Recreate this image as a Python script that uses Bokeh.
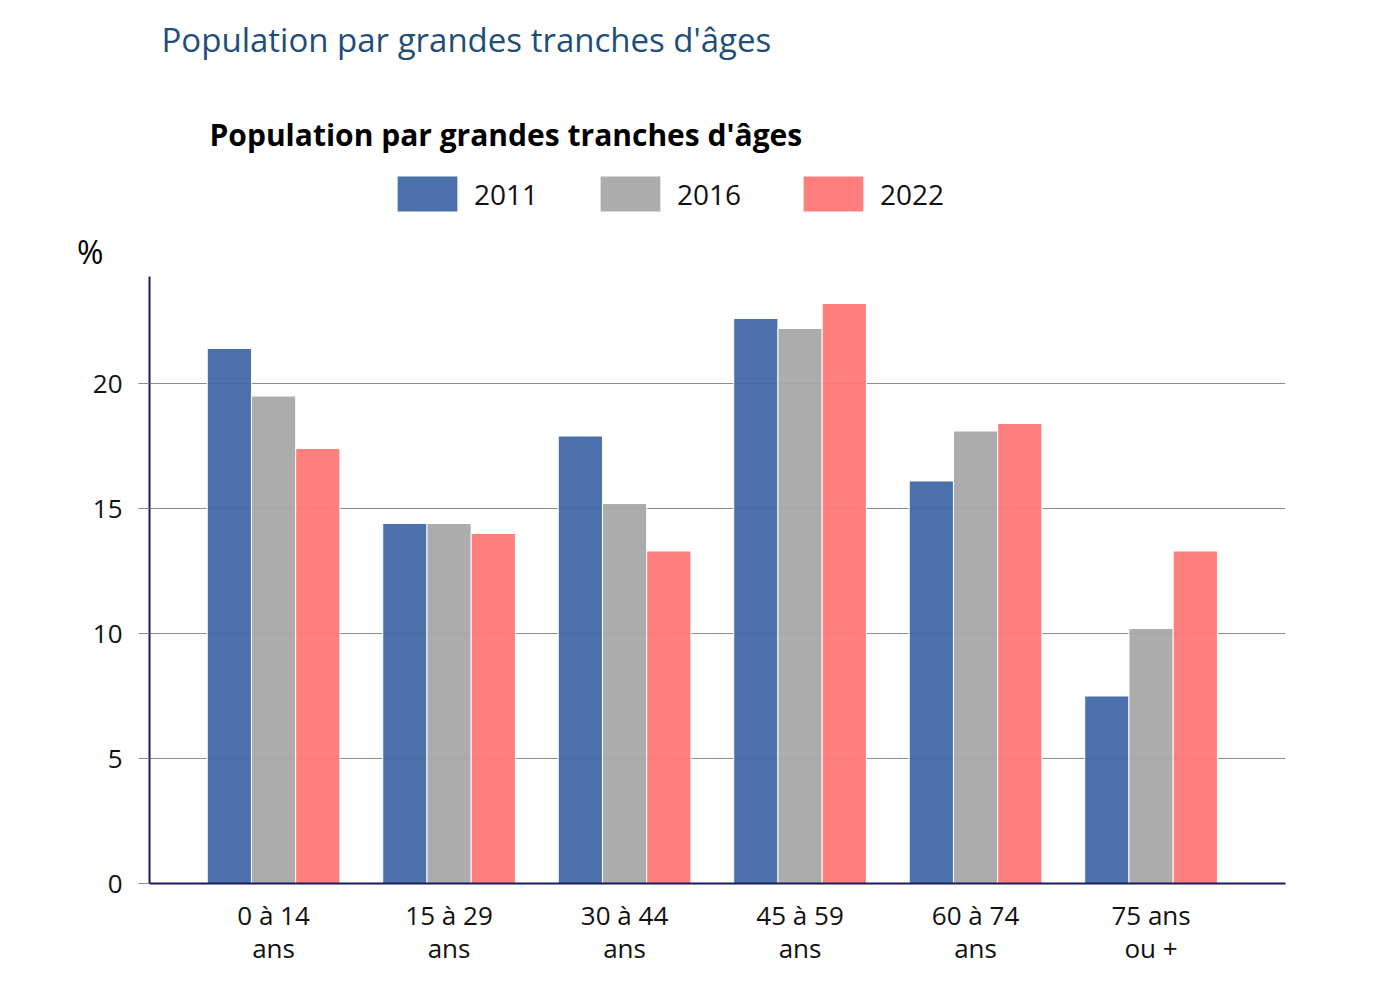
from bokeh.plotting import figure
from bokeh.models import ColumnDataSource, FixedTicker, Label, Legend, LegendItem, LinearAxis
from bokeh.embed import file_html
from bokeh.resources import INLINE

# Data
tranches = ["0 à 14\nans", "15 à 29\nans", "30 à 44\nans", "45 à 59\nans", "60 à 74\nans", "75 ans\nou +"]
pop_2011 = [21.4, 14.4, 17.9, 22.6, 16.1, 7.5]
pop_2016 = [19.5, 14.4, 15.2, 22.2, 18.1, 10.2]
pop_2022 = [17.4, 14.0, 13.3, 23.2, 18.4, 13.3]
annees = ["2011", "2016", "2022"]
y_ticks = [0, 5, 10, 15, 20]
titre = "Population par grandes tranches d'âges"

couleurs = ["#4168a8", "#a8a8a8", "#ff7878"]
pos = list(range(len(tranches)))

src = ColumnDataSource(dict(x=pos, a2011=pop_2011, a2016=pop_2016, a2022=pop_2022))

FONT = "Open Sans"

# the frame runs up to the top of the canvas so the titles and legend are not clipped
p = figure(
    width=1366,
    height=993,
    x_range=(-0.707, 5.766),
    y_range=(0, 35.32),
    output_backend="svg",
    toolbar_location=None,
    min_border_left=149,
    min_border_right=81,
    min_border_top=0,
    min_border_bottom=110,
)
p.outline_line_color = None
p.background_fill_color = "white"

# bars
renderers = []
for i, (col, c) in enumerate(zip(["a2011", "a2016", "a2022"], couleurs)):
    xs = [v + (i - 1) * 0.252 for v in pos]
    r = p.vbar(x=xs, top=src.data[col], width=0.252, bottom=0,
               fill_color=c, fill_alpha=0.95, line_color="white", line_width=1)
    renderers.append(r)

# axes
p.xgrid.grid_line_color = None
p.ygrid.grid_line_color = "#8c8c8c"
p.ygrid.grid_line_width = 1
p.ygrid.ticker = FixedTicker(ticks=y_ticks)

p.yaxis.ticker = FixedTicker(ticks=y_ticks)
p.yaxis.bounds = (0, 24.3)
p.yaxis.axis_line_color = "#1a1a5e"
p.yaxis.axis_line_width = 2
p.yaxis.major_tick_line_color = "#8c8c8c"
p.yaxis.major_tick_out = 11
p.yaxis.major_tick_in = 0
p.yaxis.minor_tick_line_color = None
p.yaxis.major_label_text_font = FONT
p.yaxis.major_label_text_font_size = "26px"
p.yaxis.major_label_text_color = "#111111"
p.yaxis.major_label_standoff = 16

# "%" unit shown as a second left axis with a single label
unit_axis = LinearAxis(
    ticker=FixedTicker(ticks=[25.3]),
    major_label_overrides={25.3: "%"},
    axis_line_color=None,
    major_tick_line_color=None,
    minor_tick_line_color=None,
    major_tick_out=0,
    major_tick_in=0,
    major_label_standoff=-14,
    major_label_text_font=FONT,
    major_label_text_font_size="32px",
    major_label_text_color="black",
)
p.add_layout(unit_axis, "left")

p.xaxis.ticker = FixedTicker(ticks=pos)
p.xaxis.major_label_overrides = {i: t for i, t in enumerate(tranches)}
p.xaxis.axis_line_color = "#1a1a5e"
p.xaxis.axis_line_width = 2
p.xaxis.major_tick_line_color = None
p.xaxis.minor_tick_line_color = None
p.xaxis.major_label_text_font = FONT
p.xaxis.major_label_text_font_size = "26px"
p.xaxis.major_label_text_color = "#111111"
p.xaxis.major_label_text_line_height = 0.92
p.xaxis.major_label_standoff = 7

# legend
legend = Legend(
    items=[LegendItem(label=a, renderers=[r]) for a, r in zip(annees, renderers)],
    orientation="horizontal",
    location=(240, 667),
    glyph_width=76,
    glyph_height=45,
    label_standoff=9,
    spacing=54,
    padding=0,
    margin=0,
    border_line_color=None,
    background_fill_alpha=0,
    label_text_font=FONT,
    label_text_font_size="28px",
    label_text_color="#111111",
)
p.add_layout(legend, "center")

# titles
p.add_layout(Label(x=12, y=844, x_units="screen", y_units="screen", text=titre,
                   text_font=FONT, text_font_size="33px", text_font_style="normal",
                   text_color="#1f4e79", text_baseline="alphabetic"))
p.add_layout(Label(x=60, y=749, x_units="screen", y_units="screen", text=titre,
                   text_font=FONT, text_font_size="30px", text_font_style="bold",
                   text_color="black", text_baseline="alphabetic"))

open("out.html", "w").write(file_html(p, INLINE))
